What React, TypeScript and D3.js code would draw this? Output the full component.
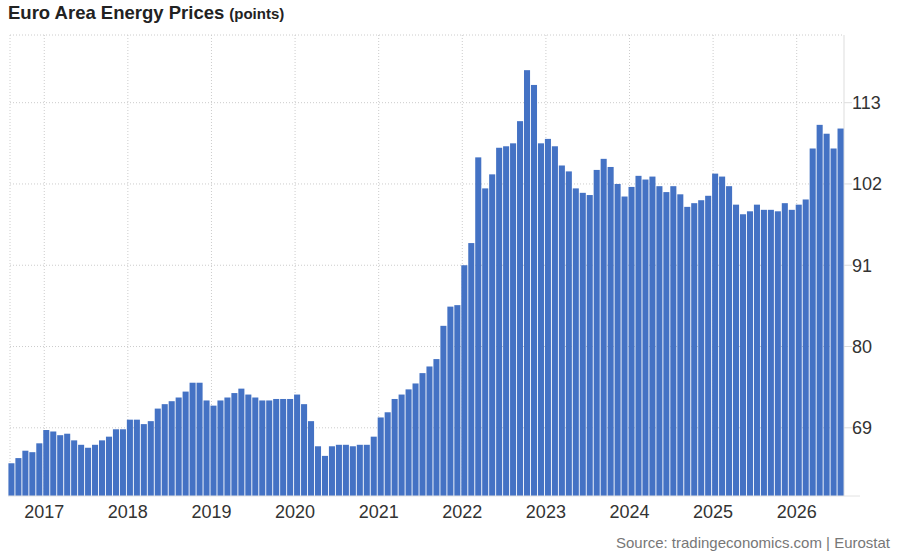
import * as d3 from "d3"

// Monthly index values, Aug 2016 .. Jul 2026
const values2016 = [64.2, 64.9, 65.9, 65.7, 66.9] // Aug-Dec
const values2017 = [68.7, 68.5, 68.0, 68.2, 67.3, 66.7, 66.3, 66.7, 67.3, 67.8, 68.8, 68.8]
const values2018 = [70.1, 70.1, 69.5, 69.9, 71.6, 72.2, 72.6, 73.1, 73.9, 75.1, 75.1, 72.7]
const values2019 = [72.0, 72.7, 73.1, 73.7, 74.3, 73.5, 73.1, 72.7, 72.7, 72.9, 72.9, 72.9]
const values2020 = [73.5, 72.2, 69.9, 66.5, 65.2, 66.5, 66.7, 66.7, 66.5, 66.7, 66.7, 67.8]
const values2021 = [70.4, 71.1, 72.9, 73.5, 74.2, 75.0, 76.4, 77.3, 78.3, 82.8, 85.4, 85.6]
const values2022 = [91.0, 94.0, 105.6, 101.4, 103.3, 106.9, 107.1, 107.5, 110.5, 117.4, 115.4, 107.5]
const values2023 = [108.1, 107.1, 104.5, 103.7, 101.4, 100.8, 100.5, 103.9, 105.4, 104.3, 102.0, 100.3]
const values2024 = [101.6, 103.1, 102.6, 103.0, 101.7, 100.9, 101.7, 100.6, 98.9, 99.4, 99.8, 100.4]
const values2025 = [103.4, 103.0, 101.7, 99.2, 97.9, 98.3, 99.2, 98.5, 98.5, 98.3, 99.4, 98.5]
const values2026 = [99.2, 99.9, 106.8, 110.0, 108.8, 106.8, 109.5] // Jan-Jul

const yearLabels = ["2017", "2018", "2019", "2020", "2021", "2022", "2023", "2024", "2025", "2026"]
const yTicks = [69, 80, 91, 102, 113]

const values = [
  ...values2016, ...values2017, ...values2018, ...values2019, ...values2020, ...values2021,
  ...values2022, ...values2023, ...values2024, ...values2025, ...values2026,
]
const months = d3.timeMonth.range(new Date(2016, 7, 1), new Date(2026, 7, 1))
const data = months.map((m, i) => ({ key: d3.timeFormat("%Y-%m")(m), value: values[i] }))

const width = 897
const height = 558
const plot = { left: 8, right: 844, top: 35, bottom: 496 }
const font = "'Liberation Sans', Arial, Helvetica, sans-serif"

export default function App() {
  const x = d3
    .scaleBand()
    .domain(data.map((d) => d.key))
    .range([plot.left, plot.right])
    .paddingInner(0.13)
    .paddingOuter(0.06)

  const y = d3.scaleLinear().domain([59.77, 122.16]).range([plot.bottom, plot.top])

  const yearX = (yr: string) => (x(`${yr}-01`) || 0) + 1

  return (
    <svg
      width={width}
      height={height}
      style={{ position: "absolute", left: 0, top: 0, background: "#fff" }}
      fontFamily={font}
    >
      {/* title */}
      <text x={8} y={19} fontSize={18.5} fontWeight="bold" fill="#222">
        Euro Area Energy Prices
        <tspan fontSize={15} dx={5}>(points)</tspan>
      </text>

      {/* grid */}
      <line x1={10} x2={plot.right} y1={plot.top} y2={plot.top} stroke="#ccc" strokeDasharray="1,2" />
      <line x1={10} x2={10} y1={plot.top} y2={plot.bottom} stroke="#ccc" strokeDasharray="1,2" />
      {yTicks.map((t) => (
        <g key={t}>
          <line x1={10} x2={plot.right} y1={y(t)} y2={y(t)} stroke="#ccc" strokeDasharray="1,2" />
          <line x1={plot.right} x2={852} y1={y(t)} y2={y(t)} stroke="#ddd" />
        </g>
      ))}
      {yearLabels.map((yr) => (
        <line
          key={yr}
          x1={yearX(yr)}
          x2={yearX(yr)}
          y1={plot.top}
          y2={plot.bottom}
          stroke="#ccc"
          strokeDasharray="1,2"
        />
      ))}
      <line x1={plot.right} x2={plot.right} y1={plot.top} y2={plot.bottom} stroke="#ddd" />

      {/* bars */}
      {data.map((d) => (
        <rect
          key={d.key}
          x={x(d.key)}
          width={x.bandwidth()}
          y={y(d.value)}
          height={plot.bottom - y(d.value)}
          fill="#4472c4"
        />
      ))}

      <line x1={plot.left} x2={860} y1={plot.bottom} y2={plot.bottom} stroke="#e2e2e2" />

      {/* y labels */}
      {yTicks.map((t) => (
        <text key={t} x={852} y={y(t)} dy="0.36em" fontSize={18} fill="#333">
          {t}
        </text>
      ))}

      {/* x labels */}
      {yearLabels.map((yr) => (
        <text key={yr} x={yearX(yr)} y={518} textAnchor="middle" fontSize={18} fill="#333">
          {yr}
        </text>
      ))}

      <text x={890} y={548} textAnchor="end" fontSize={15} fill="#777">
        Source: tradingeconomics.com | Eurostat
      </text>
    </svg>
  )
}
